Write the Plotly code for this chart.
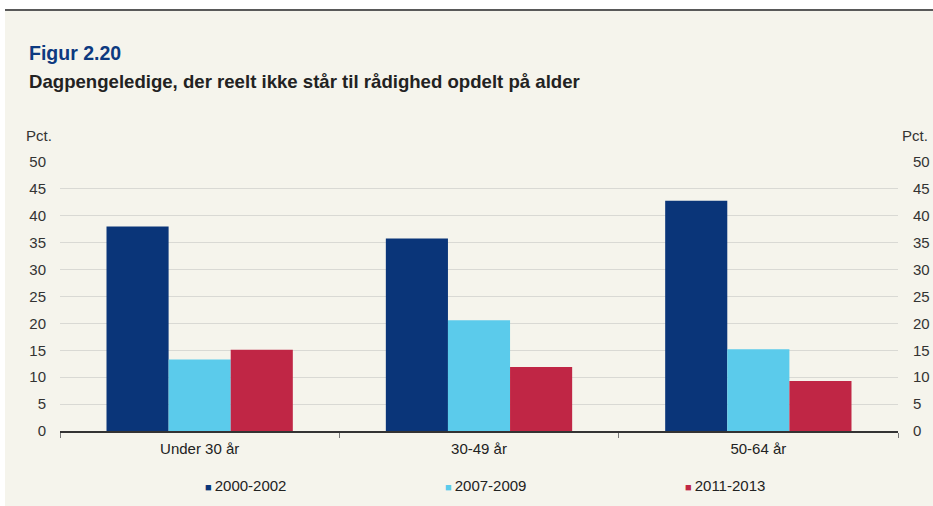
import plotly.graph_objects as go

categories = ["Under 30 år", "30-49 år", "50-64 år"]
series_names = ["2000-2002", "2007-2009", "2011-2013"]
values_2000_2002 = [38.0, 35.8, 42.8]
values_2007_2009 = [13.3, 20.6, 15.2]
values_2011_2013 = [15.1, 11.9, 9.3]
colors = ["#0A3579", "#5BCBEB", "#C02645"]
tick_vals = [0, 5, 10, 15, 20, 25, 30, 35, 40, 45, 50]

W, H = 933, 506
ML, MR, MT, MB = 60, 35, 162, 75
PW, PH = W - ML - MR, H - MT - MB

def px(x):
    return (x - ML) / PW

def py(y):
    return (H - MB - y) / PH

FONT = "Liberation Sans, Arial, sans-serif"
BG = "#F5F4EC"

fig = go.Figure()
for name, vals, col in zip(series_names, [values_2000_2002, values_2007_2009, values_2011_2013], colors):
    fig.add_trace(go.Bar(x=categories, y=vals, name=name, marker=dict(color=col, line=dict(width=0)),
                         showlegend=False, legendgroup=name))
    label = ('<span style="font-size:11px;color:%s">■\u00a0</span>%s' % (col, name))
    fig.add_trace(go.Scatter(x=[categories[0]], y=[None], mode="markers", name=label, legendgroup=name,
                             marker=dict(symbol="square", size=1, color="rgba(0,0,0,0)"),
                             showlegend=True))

# invisible trace on right axis
fig.add_trace(go.Scatter(x=[categories[0]], y=[None], yaxis="y2", showlegend=False, hoverinfo="skip"))

fig.update_layout(
    width=W, height=H,
    margin=dict(l=ML, r=MR, t=MT, b=MB, pad=0, autoexpand=False),
    paper_bgcolor="white", plot_bgcolor=BG,
    barmode="group", bargap=0.333, bargroupgap=0,
    font=dict(family=FONT, size=15, color="#333333"),
    xaxis=dict(type="category", showline=True, linecolor="#333333", linewidth=1.5,
               ticks="outside", tickson="boundaries", ticklen=5, tickcolor="#777777",
               ticklabelstandoff=3,
               showgrid=False, tickfont=dict(size=15, color="#222222"), fixedrange=True),
    yaxis=dict(range=[0, 50], tickvals=tick_vals, showgrid=True, gridcolor="#D9D9D4", gridwidth=1,
               zeroline=False, ticks="", ticklabelstandoff=13, tickfont=dict(size=15, color="#333333")),
    yaxis2=dict(range=[0, 50], tickvals=tick_vals, overlaying="y", side="right", showgrid=False,
                zeroline=False, ticks="", ticklabelstandoff=14, tickfont=dict(size=15, color="#333333")),
    legend=dict(orientation="h", xref="container", yref="container", x=165 / W, xanchor="left",
                y=(H - 485) / H, yanchor="middle",
                entrywidth=195, entrywidthmode="pixels", bgcolor="rgba(0,0,0,0)",
                font=dict(size=15, color="#222222"), itemclick=False, itemwidth=30),
    shapes=[
        dict(type="rect", xref="paper", yref="paper", x0=px(5), x1=px(940), y0=py(11), y1=py(510),
             fillcolor=BG, line=dict(width=0), layer="below"),
        dict(type="line", xref="paper", yref="paper", x0=px(5), x1=px(940), y0=py(10), y1=py(10),
             line=dict(color="#222222", width=1.5)),
    ],
    annotations=[
        dict(text="<b>Figur 2.20</b>", xref="paper", yref="paper", x=px(27), y=py(53),
             xanchor="left", yanchor="middle", showarrow=False,
             font=dict(family=FONT, size=19.5, color="#0D3A80")),
        dict(text="<b>Dagpengeledige, der reelt ikke står til rådighed opdelt på alder</b>", xref="paper",
             yref="paper", x=px(27), y=py(82), xanchor="left", yanchor="middle", showarrow=False,
             font=dict(family=FONT, size=18.6, color="#222222")),
        dict(text="Pct.", xref="paper", yref="paper", x=px(54), y=py(136), xanchor="right",
             yanchor="middle", showarrow=False, font=dict(family=FONT, size=15, color="#333333")),
        dict(text="Pct.", xref="paper", yref="paper", x=px(900), y=py(136), xanchor="left",
             yanchor="middle", showarrow=False, font=dict(family=FONT, size=15, color="#333333")),
    ],
)

fig.write_html("out.html", config={"displayModeBar": False},
               post_script="document.body.style.margin='0';document.body.style.overflow='hidden';")
